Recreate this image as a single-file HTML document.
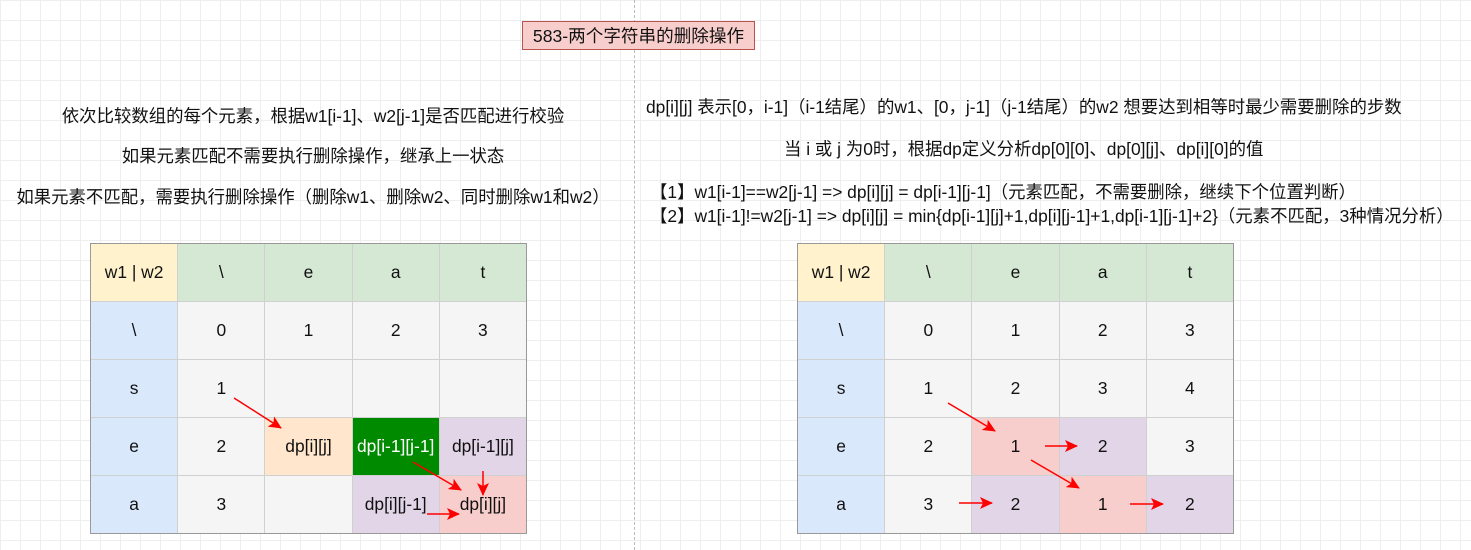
<!DOCTYPE html>
<html><head><meta charset="utf-8"><style>
body{margin:0;width:1471px;height:550px;overflow:hidden;background:#fff;
background-image:linear-gradient(#eee 1px,transparent 1px),linear-gradient(90deg,#eee 1px,transparent 1px);background-size:20px 20px;
font-family:"Liberation Sans","Noto Sans CJK SC",sans-serif;color:#111;position:relative}
.t{position:absolute;font-size:17.4px;white-space:nowrap}
.c{position:absolute;display:flex;align-items:center;justify-content:center;font-size:17.4px;box-sizing:border-box;border:1px solid #d0d0d0;white-space:nowrap}
.tb{position:absolute;border:1.5px solid #999;box-sizing:border-box}
</style></head><body>
<div style="position:absolute;left:634px;top:0;height:550px;border-left:1px dashed #bbb"></div>
<div class="c" style="left:522px;top:21px;width:233px;height:29px;background:#f8cecc;border:1.5px solid #b85450;font-size:17.6px">583-两个字符串的删除操作</div>

<div class="t" style="left:0;width:626px;text-align:center;top:103px">依次比较数组的每个元素，根据w1[i-1]、w2[j-1]是否匹配进行校验</div>
<div class="t" style="left:0;width:626px;text-align:center;top:143px">如果元素匹配不需要执行删除操作，继承上一状态</div>
<div class="t" style="left:0;width:626px;text-align:center;top:184px">如果元素不匹配，需要执行删除操作（删除w1、删除w2、同时删除w1和w2）</div>

<div class="t" style="left:646px;top:94px">dp[i][j] 表示[0，i-1]（i-1结尾）的w1、[0，j-1]（j-1结尾）的w2 想要达到相等时最少需要删除的步数</div>
<div class="t" style="left:784px;top:136px">当 i 或 j 为0时，根据dp定义分析dp[0][0]、dp[0][j]、dp[i][0]的值</div>
<div class="t" style="left:650px;top:179px">【1】w1[i-1]==w2[j-1] =&gt; dp[i][j] = dp[i-1][j-1]（元素匹配，不需要删除，继续下个位置判断）</div>
<div class="t" style="left:650px;top:203px">【2】w1[i-1]!=w2[j-1] =&gt; dp[i][j] = min{dp[i-1][j]+1,dp[i][j-1]+1,dp[i-1][j-1]+2}（元素不匹配，3种情况分析）</div>

<script>
function tbl(x0,cells,colors){
 var w=87.2,h=58,y0=243,html='';
 for(var r=0;r<5;r++)for(var c=0;c<5;c++){
  var bg=colors[r][c],txt=cells[r][c],fc=bg=='#008a00'?'#fff':'#111';
  html+='<div class="c" style="left:'+(x0+c*w)+'px;top:'+(y0+r*h)+'px;width:'+(w+1)+'px;height:'+(h+1)+'px;background:'+bg+';color:'+fc+'">'+txt+'</div>';
 }
 html+='<div class="tb" style="left:'+x0+'px;top:'+y0+'px;width:'+(w*5+1)+'px;height:'+(h*5+1)+'px"></div>';
 document.body.insertAdjacentHTML('beforeend',html);
}
var Y='#fff2cc',G='#d5e8d4',B='#dae8fc',S='#f5f5f5',O='#ffe6cc',D='#008a00',P='#e1d5e7',Rd='#f8cecc';
tbl(90,[['w1 | w2','\\','e','a','t'],['\\','0','1','2','3'],['s','1','','',''],['e','2','dp[i][j]','dp[i-1][j-1]','dp[i-1][j]'],['a','3','','dp[i][j-1]','dp[i][j]']],
[[Y,G,G,G,G],[B,S,S,S,S],[B,S,S,S,S],[B,S,O,D,P],[B,S,S,P,Rd]]);
tbl(797,[['w1 | w2','\\','e','a','t'],['\\','0','1','2','3'],['s','1','2','3','4'],['e','2','1','2','3'],['a','3','2','1','2']],
[[Y,G,G,G,G],[B,S,S,S,S],[B,S,S,S,S],[B,S,Rd,P,S],[B,S,P,Rd,P]]);
</script>
<svg width="1471" height="550" style="position:absolute;left:0;top:0">
<defs><marker id="a" markerWidth="13" markerHeight="12" refX="12" refY="6" orient="auto" markerUnits="userSpaceOnUse"><path d="M0,0 L13,6 L0,12 L3,6 Z" fill="#f00"/></marker></defs>
<g stroke="#f00" stroke-width="1.5" marker-end="url(#a)">
<line x1="234" y1="398" x2="281" y2="428"/>
<line x1="413" y1="462" x2="461" y2="490"/>
<line x1="483" y1="471" x2="483" y2="495"/>
<line x1="427" y1="514" x2="459" y2="514"/>
<line x1="948" y1="403" x2="995" y2="431"/>
<line x1="1045" y1="446" x2="1077" y2="446"/>
<line x1="1031" y1="460" x2="1079" y2="488"/>
<line x1="959" y1="503" x2="992" y2="503"/>
<line x1="1130" y1="504" x2="1163" y2="504"/>
</g></svg>
</body></html>
